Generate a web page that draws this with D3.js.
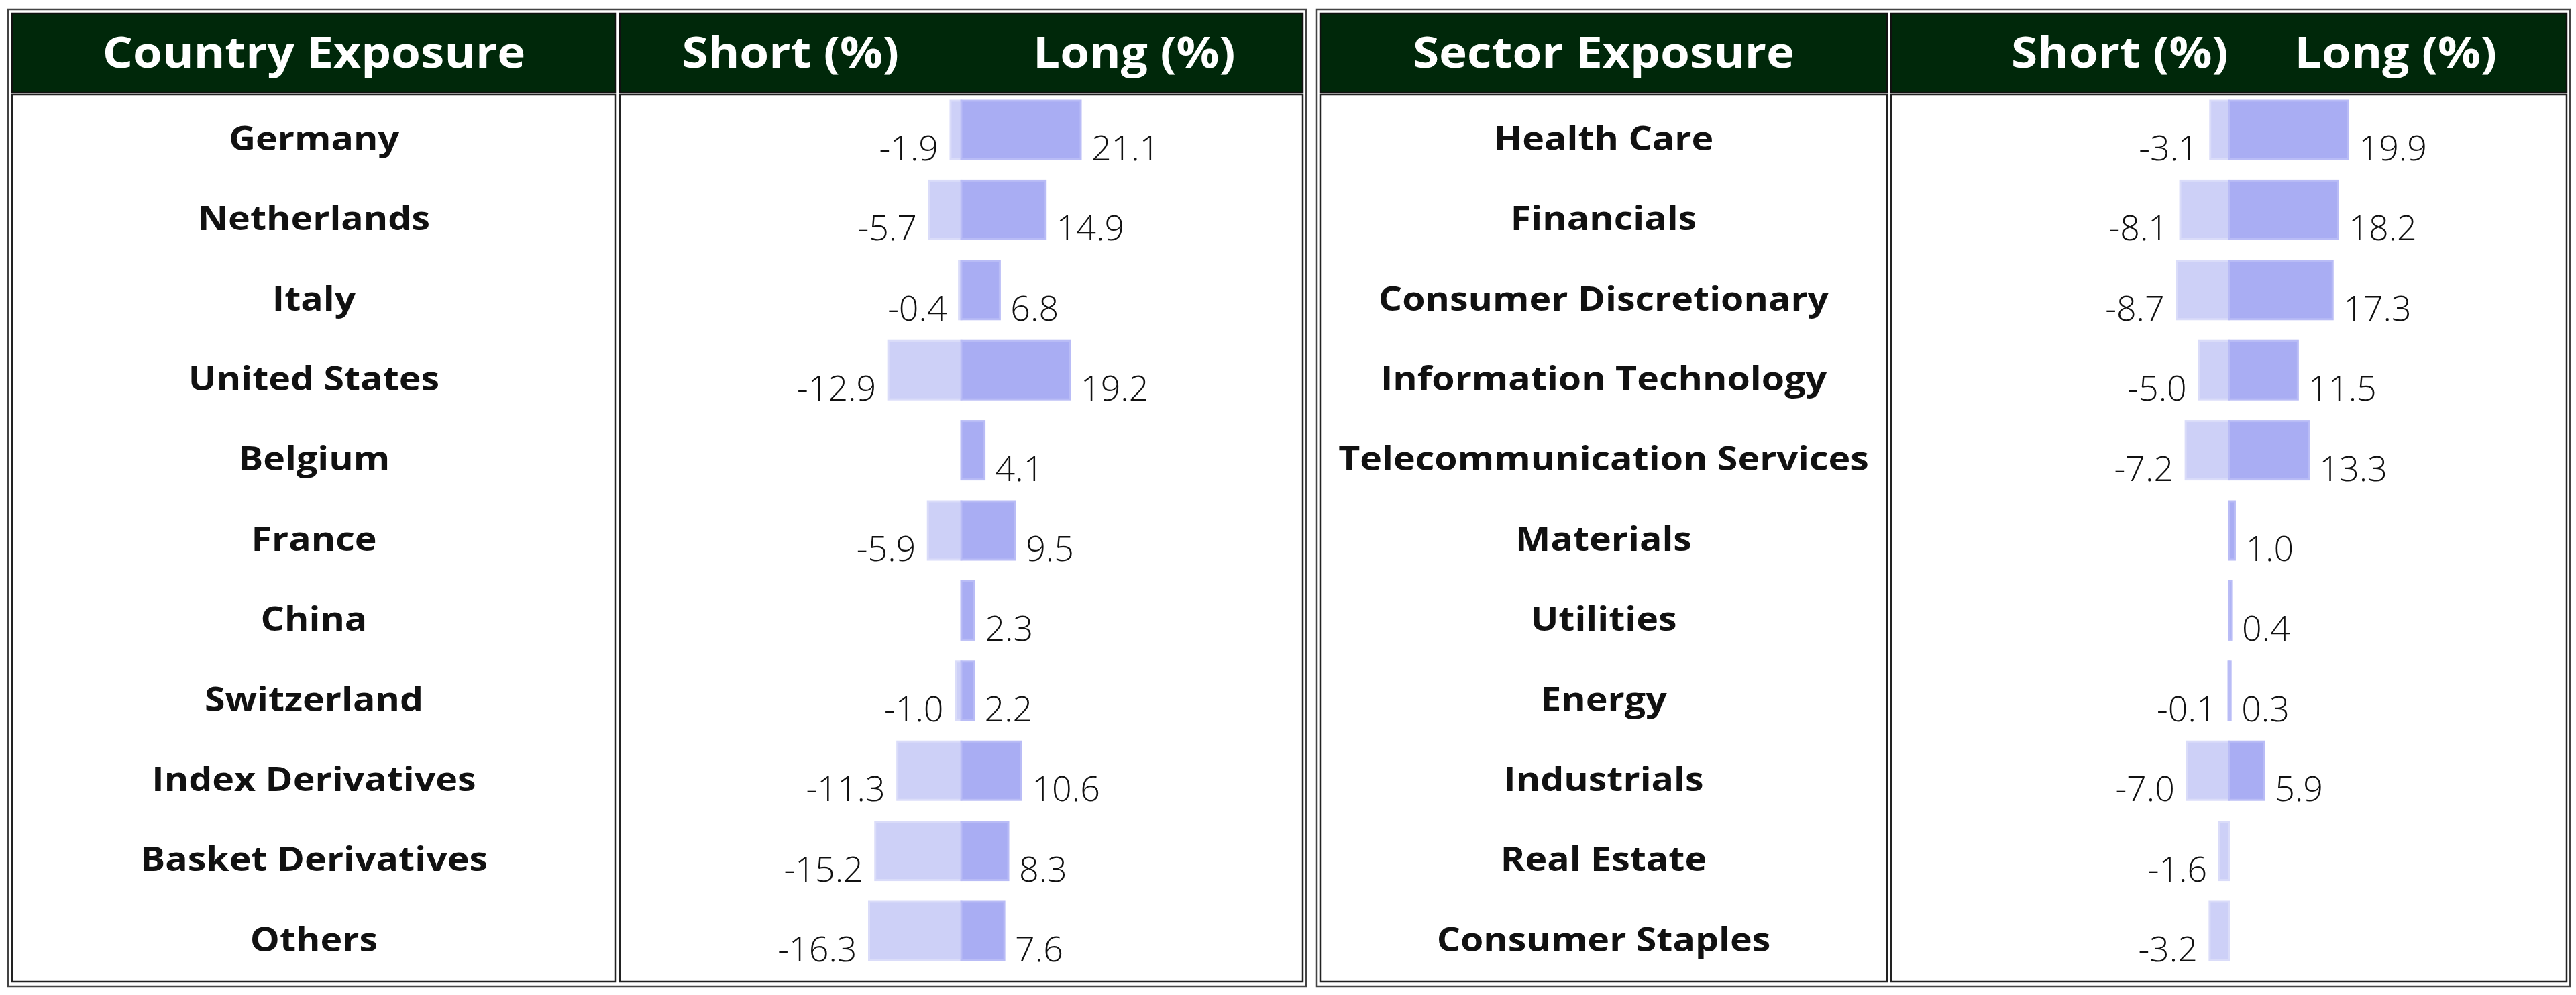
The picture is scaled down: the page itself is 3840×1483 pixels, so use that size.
<!DOCTYPE html>
<html>
<head>
<meta charset="utf-8">
<script src="https://cdn.jsdelivr.net/npm/d3@7"></script>
<style>
  body { margin: 0; background: #fff; }
  svg { display: block; }
</style>
</head>
<body>
<div id="chart"></div>
<script>
const countryCategories = ["Germany", "Netherlands", "Italy", "United States", "Belgium", "France",
  "China", "Switzerland", "Index Derivatives", "Basket Derivatives", "Others"];
const countryShort = [-1.9, -5.7, -0.4, -12.9, null, -5.9, null, -1.0, -11.3, -15.2, -16.3];
const countryLong = [21.1, 14.9, 6.8, 19.2, 4.1, 9.5, 2.3, 2.2, 10.6, 8.3, 7.6];

const sectorCategories = ["Health Care", "Financials", "Consumer Discretionary", "Information Technology",
  "Telecommunication Services", "Materials", "Utilities", "Energy", "Industrials", "Real Estate",
  "Consumer Staples"];
const sectorShort = [-3.1, -8.1, -8.7, -5.0, -7.2, null, null, -0.1, -7.0, -1.6, -3.2];
const sectorLong = [19.9, 18.2, 17.3, 11.5, 13.3, 1.0, 0.4, 0.3, 5.9, null, null];

const headerLabels = ["Short (%)", "Long (%)"];
const tableTitles = ["Country Exposure", "Sector Exposure"];

const HEADER_BG = "#00280a";
const LONG_FILL = "#a9adf3";
const LONG_EDGE = "#b9bcf6";
const SHORT_FILL = "#cdd0f7";
const SHORT_EDGE = "#dadcf9";
const WIDE = 1.11; // bold text in the reference is drawn a bit wider

const svg = d3.select("#chart").append("svg")
  .attr("width", 3840)
  .attr("height", 1483)
  .style("font-family", "'Open Sans', sans-serif");

// text that is stretched horizontally around its anchor point
function wideText(g, x, y, anchor, str) {
  return g.append("text")
    .attr("transform", `translate(${x},${y}) scale(${WIDE},1)`)
    .attr("text-anchor", anchor)
    .text(str);
}

class ExposureTable {
  constructor(g, cfg) {
    this.g = g;
    this.cfg = cfg;
  }

  drawFrame() {
    const c = this.cfg;
    // outer table border
    this.g.append("rect")
      .attr("x", c.x0).attr("y", 14)
      .attr("width", c.x1 - c.x0).attr("height", 1456)
      .attr("fill", "none").attr("stroke", "#444").attr("stroke-width", 2.5);
    const cols = [[c.x0 + 6, c.split - 2], [c.split + 4, c.x1 - 5]];
    cols.forEach(([a, b]) => {
      this.g.append("rect")
        .attr("x", a).attr("y", 20).attr("width", b - a).attr("height", 118)
        .attr("fill", HEADER_BG).attr("stroke", "#111").attr("stroke-width", 2.5);
      this.g.append("rect")
        .attr("x", a).attr("y", 141).attr("width", b - a).attr("height", 1322)
        .attr("fill", "#fff").attr("stroke", "#222").attr("stroke-width", 2.5);
    });
    this.cols = cols;
    return this;
  }

  buildScales() {
    const c = this.cfg;
    const [a, b] = this.cols[1];
    this.zero = (a + b) / 2;
    const maxAbs = d3.max([...c.short, ...c.long].filter((v) => v != null).map(Math.abs));
    this.x = d3.scaleLinear().domain([-maxAbs, maxAbs])
      .range([this.zero - c.barMax, this.zero + c.barMax]);
    this.y = d3.scaleBand().domain(c.categories).range([141, 141 + 119.4 * c.categories.length]);
    return this;
  }

  drawHeader() {
    const c = this.cfg;
    const [la, lb] = this.cols[0];
    const head = this.g.append("g")
      .attr("fill", "#fff").attr("font-weight", 700).attr("font-size", 64);
    wideText(head, (la + lb) / 2, 101, "middle", c.title);
    wideText(head, this.zero + c.shortHeadEnd, 101, "end", headerLabels[0]);
    wideText(head, this.zero + c.longHeadStart, 101, "start", headerLabels[1]);
    return this;
  }

  drawRows() {
    const c = this.cfg;
    const [la, lb] = this.cols[0];
    const rows = c.categories.map((name, i) => ({ name, s: c.short[i], l: c.long[i] }));
    const bh = 87;

    const names = this.g.append("g")
      .attr("font-weight", 700).attr("font-size", 50).attr("fill", "#111");
    rows.forEach((d) => {
      wideText(names, (la + lb) / 2, this.y(d.name) + this.y.bandwidth() / 2 + 23, "middle", d.name);
    });

    const bars = this.g.append("g");
    bars.selectAll(".short")
      .data(rows.filter((d) => d.s != null)).enter().append("rect")
      .attr("class", "short")
      .attr("x", (d) => this.x(d.s))
      .attr("y", (d) => this.y(d.name) + 9)
      .attr("width", (d) => this.zero - this.x(d.s))
      .attr("height", bh)
      .attr("fill", SHORT_FILL).attr("stroke", SHORT_EDGE).attr("stroke-width", 3);
    bars.selectAll(".long")
      .data(rows.filter((d) => d.l != null)).enter().append("rect")
      .attr("class", "long")
      .attr("x", this.zero)
      .attr("y", (d) => this.y(d.name) + 9)
      .attr("width", (d) => this.x(d.l) - this.zero)
      .attr("height", bh)
      .attr("fill", LONG_FILL).attr("stroke", LONG_EDGE).attr("stroke-width", 3);

    const labels = this.g.append("g")
      .attr("font-weight", 300).attr("font-size", 52).attr("fill", "#111");
    labels.selectAll(".slab")
      .data(rows.filter((d) => d.s != null)).enter().append("text")
      .attr("x", (d) => this.x(d.s) - 18)
      .attr("y", (d) => this.y(d.name) + 9 + bh + 2)
      .attr("text-anchor", "end")
      .text((d) => d.s.toFixed(1));
    labels.selectAll(".llab")
      .data(rows.filter((d) => d.l != null)).enter().append("text")
      .attr("x", (d) => this.x(d.l) + 16)
      .attr("y", (d) => this.y(d.name) + 9 + bh + 2)
      .attr("text-anchor", "start")
      .text((d) => d.l.toFixed(1));
    return this;
  }
}

new ExposureTable(svg.append("g"), {
  x0: 12, x1: 1947, split: 920, barMax: 178,
  title: tableTitles[0], categories: countryCategories, short: countryShort, long: countryLong,
  shortHeadEnd: -93, longHeadStart: 107
}).drawFrame().buildScales().drawHeader().drawRows();

new ExposureTable(svg.append("g"), {
  x0: 1962, x1: 3831, split: 2815, barMax: 178,
  title: tableTitles[1], categories: sectorCategories, short: sectorShort, long: sectorLong,
  shortHeadEnd: -1, longHeadStart: 98
}).drawFrame().buildScales().drawHeader().drawRows();
</script>
</body>
</html>
